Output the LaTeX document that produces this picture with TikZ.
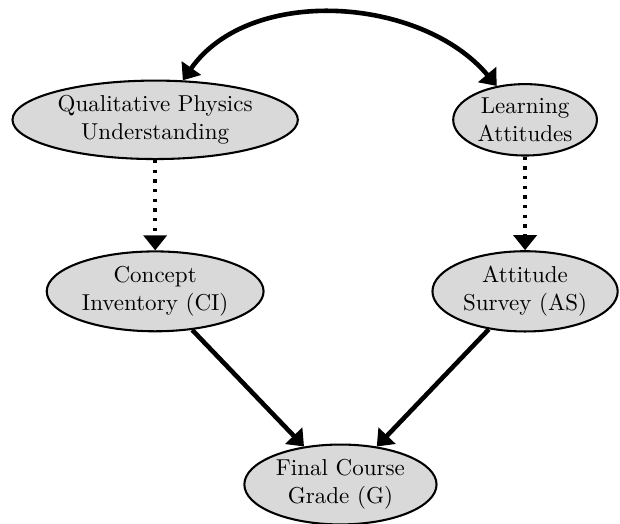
\documentclass[tikz,border=0pt]{standalone}
\usepackage{amsmath,amssymb}
\usetikzlibrary{shapes.geometric,arrows.meta}

\begin{document}
\begin{tikzpicture}[
  >={Triangle[length=6.5pt,width=10pt]},
  latent/.style={ellipse,draw,line width=0.9pt,fill=black!15,align=center,inner sep=1.5pt},
  solidline/.style={line width=2pt},
  dotline/.style={line width=1.45pt,dash pattern=on 1.45pt off 2.75pt}
]
  \useasboundingbox (0,0) rectangle (9.47,-7.99);

  \node[latent] (1) at (2.37,-1.83) {Qualitative Physics\\Understanding}; % latent, left
  \node[latent] (2) at (8.02,-1.83) {Learning\\Attitudes}; % latent, right
  \node[latent] (3) at (2.37,-4.45) {Concept\\Inventory (CI)};
  \node[latent] (4) at (8.02,-4.45) {Attitude\\Survey (AS)};
  \node[latent] (5) at (5.20,-7.40) {Final Course\\Grade (G)};

  \draw[solidline,<->] (1) to[out=55,in=130,looseness=0.95] (2); % correlation
  \draw[dotline,->] (1) to (3);
  \draw[dotline,->] (2) to (4);
  \draw[solidline,->] (3) to (5);
  \draw[solidline,->] (4) to (5);

\end{tikzpicture}
\end{document}
